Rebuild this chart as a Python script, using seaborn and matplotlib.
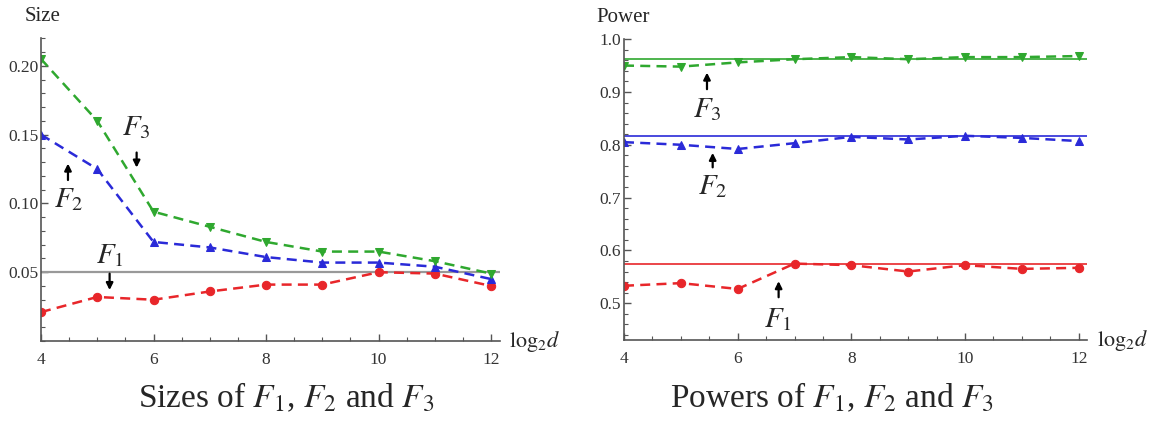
import matplotlib
matplotlib.use("Agg")
import matplotlib.pyplot as plt
import pandas as pd
import seaborn as sns
from matplotlib.ticker import MultipleLocator

# data
log2d = [4, 5, 6, 7, 8, 9, 10, 11, 12]

size_f1 = [0.021, 0.032, 0.030, 0.036, 0.041, 0.041, 0.050, 0.049, 0.040]
size_f2 = [0.150, 0.125, 0.072, 0.068, 0.061, 0.057, 0.057, 0.054, 0.045]
size_f3 = [0.205, 0.160, 0.094, 0.083, 0.072, 0.065, 0.065, 0.058, 0.049]
size_nominal = 0.05

power_f1 = [0.533, 0.538, 0.527, 0.575, 0.572, 0.560, 0.572, 0.565, 0.567]
power_f2 = [0.805, 0.800, 0.792, 0.803, 0.815, 0.810, 0.817, 0.813, 0.807]
power_f3 = [0.950, 0.948, 0.956, 0.962, 0.966, 0.962, 0.966, 0.966, 0.968]
power_ref = [0.575, 0.817, 0.963]

series_names = ["F1", "F2", "F3"]
colors = {"F1": "#e8262a", "F2": "#2a2ad8", "F3": "#2fa82f"}
markers = {"F1": "o", "F2": "^", "F3": "v"}

sns.set_style("white")
plt.rcParams["font.family"] = ["Liberation Serif", "DejaVu Serif"]
plt.rcParams["mathtext.fontset"] = "stix"

fig = plt.figure(figsize=(11.67, 4.21), dpi=100)
ax1 = fig.add_axes([0.0351, 0.19, 0.393, 0.719])
ax2 = fig.add_axes([0.5347, 0.192, 0.397, 0.715])

axis_col = "#555555"


def draw(ax, vals):
    for name, v in zip(series_names, vals):
        df = pd.DataFrame({"x": log2d, "y": v})
        sns.lineplot(data=df, x="x", y="y", ax=ax, color=colors[name],
                     linestyle=(0, (4, 2.5)), linewidth=1.8,
                     marker=markers[name], markersize=6,
                     markeredgecolor=colors[name])


def style(ax):
    for s in ["top", "right"]:
        ax.spines[s].set_visible(False)
    for s in ["left", "bottom"]:
        ax.spines[s].set_color(axis_col)
        ax.spines[s].set_linewidth(1.2)
    ax.xaxis.set_major_locator(MultipleLocator(2))
    ax.xaxis.set_minor_locator(MultipleLocator(0.5))
    ax.tick_params(which="both", direction="in", colors=axis_col,
                   labelcolor="#333333", labelsize=12.5,
                   bottom=True, left=True)
    ax.tick_params(which="major", length=5, width=1)
    ax.tick_params(which="minor", length=3, width=0.8)
    ax.tick_params(axis="x", pad=8)
    ax.tick_params(axis="y", pad=2)
    ax.set_xlabel("")
    ax.set_ylabel("")
    ax.set_xlim(4, 12.15)


# left panel: sizes
draw(ax1, [size_f1, size_f2, size_f3])
ax1.axhline(size_nominal, color="#999999", linewidth=1.6, zorder=1)
style(ax1)
ax1.set_ylim(0, 0.22)
ax1.set_yticks([0.05, 0.10, 0.15, 0.20])
ax1.set_yticklabels(["0.05", "0.10", "0.15", "0.20"])
ax1.yaxis.set_minor_locator(MultipleLocator(0.01))
ax1.text(-0.035, 1.04, "Size", transform=ax1.transAxes, fontsize=15, ha="left", va="bottom")
ax1.text(1.02, 0.0, r"$\mathrm{log}_2 d$", transform=ax1.transAxes, fontsize=16, ha="left", va="center")

arrow = dict(arrowstyle="-|>", color="black", lw=1.6, mutation_scale=10)
ax1.text(5.7, 0.155, r"$F_3$", fontsize=21, ha="center", va="center")
ax1.annotate("", xy=(5.7, 0.124), xytext=(5.7, 0.139), arrowprops=arrow)
ax1.text(4.5, 0.103, r"$F_2$", fontsize=21, ha="center", va="center")
ax1.annotate("", xy=(4.48, 0.131), xytext=(4.48, 0.115), arrowprops=arrow)
ax1.text(5.22, 0.062, r"$F_1$", fontsize=21, ha="center", va="center")
ax1.annotate("", xy=(5.22, 0.035), xytext=(5.22, 0.051), arrowprops=arrow)

# right panel: powers
draw(ax2, [power_f1, power_f2, power_f3])
for name, r in zip(series_names, power_ref):
    ax2.axhline(r, color=colors[name], linewidth=1.2, zorder=1)
style(ax2)
ax2.set_ylim(0.43, 1.0)
ax2.set_yticks([0.5, 0.6, 0.7, 0.8, 0.9, 1.0])
ax2.set_yticklabels(["0.5", "0.6", "0.7", "0.8", "0.9", "1.0"])
ax2.yaxis.set_minor_locator(MultipleLocator(0.02))
ax2.text(-0.06, 1.04, "Power", transform=ax2.transAxes, fontsize=15, ha="left", va="bottom")
ax2.text(1.02, 0.0, r"$\mathrm{log}_2 d$", transform=ax2.transAxes, fontsize=16, ha="left", va="center")

ax2.text(5.46, 0.866, r"$F_3$", fontsize=21, ha="center", va="center")
ax2.annotate("", xy=(5.46, 0.942), xytext=(5.46, 0.9), arrowprops=arrow)
ax2.text(5.56, 0.72, r"$F_2$", fontsize=21, ha="center", va="center")
ax2.annotate("", xy=(5.56, 0.79), xytext=(5.56, 0.752), arrowprops=arrow)
ax2.text(6.7, 0.468, r"$F_1$", fontsize=21, ha="center", va="center")
ax2.annotate("", xy=(6.72, 0.547), xytext=(6.72, 0.506), arrowprops=arrow)

# captions
fig.text(0.245, 0.055, r"Sizes of $F_1$, $F_2$ and $F_3$", fontsize=24, ha="center", va="center")
fig.text(0.713, 0.055, r"Powers of $F_1$, $F_2$ and $F_3$", fontsize=24, ha="center", va="center")

fig.savefig("out.png", dpi=100)
